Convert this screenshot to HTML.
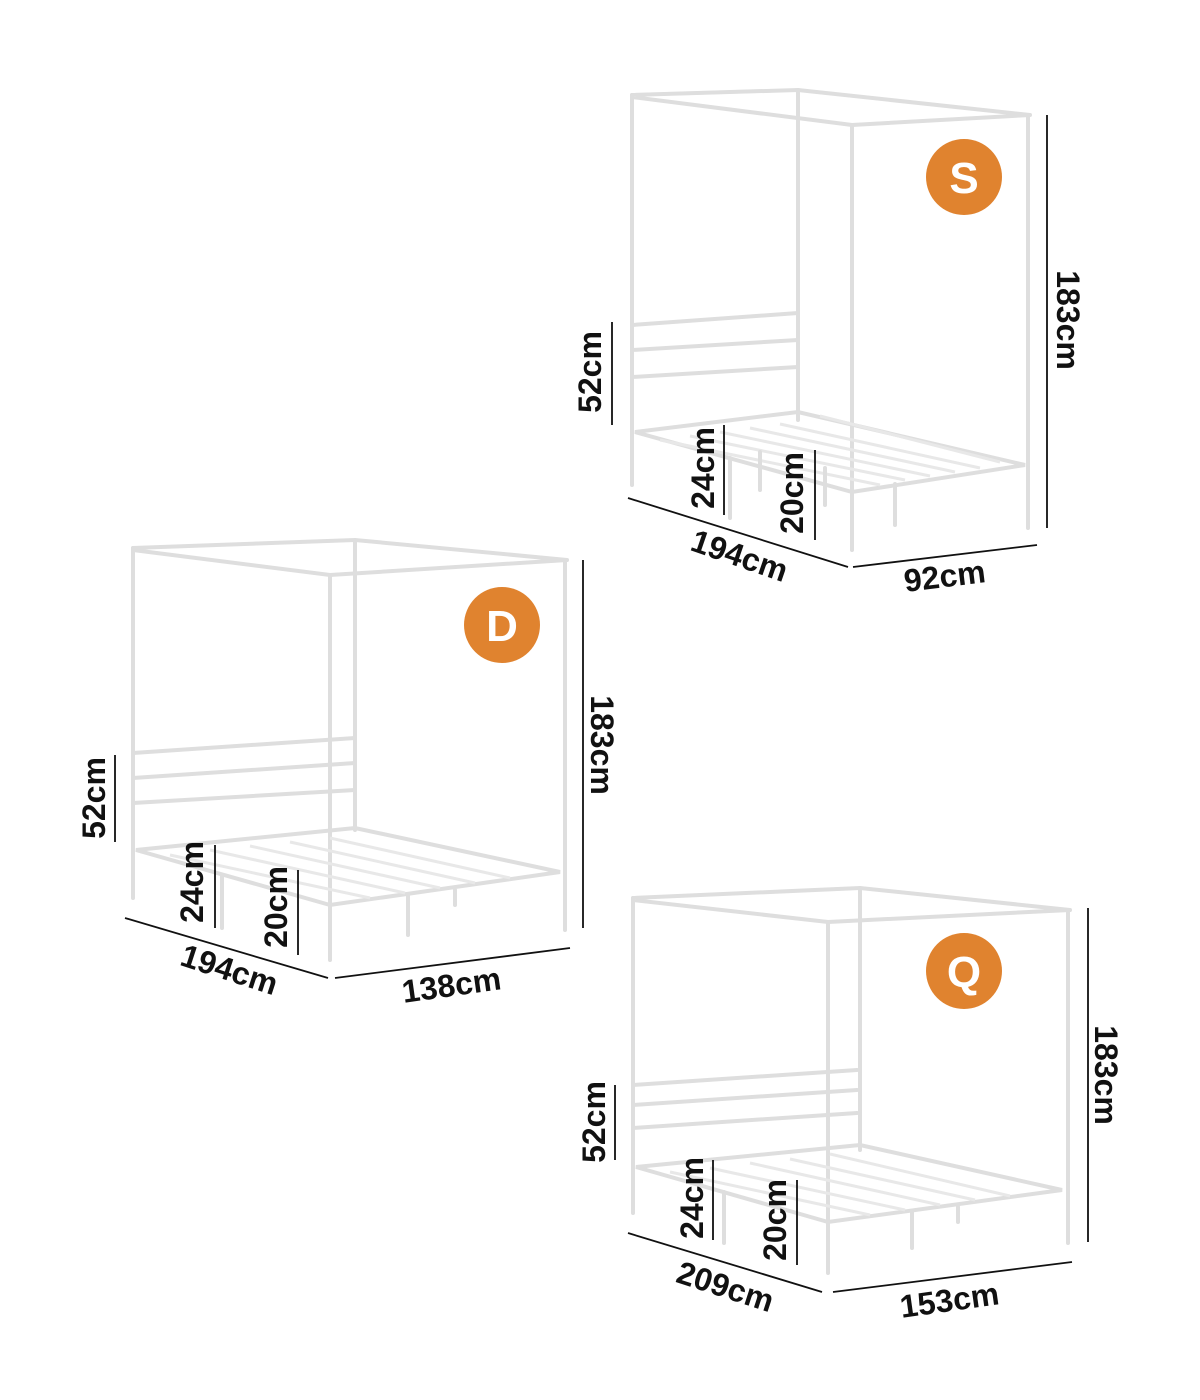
<!DOCTYPE html>
<html><head><meta charset="utf-8"><style>
html,body{margin:0;padding:0;background:#fff;}
svg{display:block;}
text{font-family:"Liberation Sans",sans-serif;font-weight:bold;font-size:32px;fill:#111;}
.f{stroke:#dedede;stroke-width:4;fill:none;stroke-linecap:round;}
.fi{stroke:#e8e8e8;stroke-width:3;fill:none;}
.d{stroke:#111;stroke-width:1.8;fill:none;}
.b{fill:#E0832F;}
.bt{fill:#fff;font-size:44px;text-anchor:middle;}
</style></head><body>
<svg width="1200" height="1400" viewBox="0 0 1200 1400" xmlns="http://www.w3.org/2000/svg">

<g>
<path class="f" d="M632,95 V485 M798,90 V420 M852,125 V550 M1028,115 V528"/>
<path class="f" d="M632,95 L798,90 L1030,115 M632,97 L852,125 L1030,115"/>
<path class="f" d="M632,325 L798,313 M632,350 L798,340 M632,377 L798,367"/>
<path class="f" d="M635,432 L798,412 L1025,465 L852,492 Z"/>
<path class="fi" d="M660,440 L880,485 M690,436 L905,480 M720,432 L930,476 M750,428 L955,472 M780,424 L980,468 M820,416 L1000,462"/>
<path class="f" d="M730,458 V518 M895,484 V525 M760,452 V490 M825,468 V505"/>
<circle class="b" cx="964" cy="177" r="38"/><text class="bt" x="964" y="193">S</text>
<line class="d" x1="1047" y1="115" x2="1047" y2="528"/>
<text transform="translate(1057,320) rotate(90)" text-anchor="middle">183cm</text>
<line class="d" x1="612" y1="322" x2="612" y2="425"/>
<text transform="translate(601,372) rotate(-90)" text-anchor="middle">52cm</text>
<line class="d" x1="724" y1="425" x2="724" y2="515"/>
<text transform="translate(714,468) rotate(-90)" text-anchor="middle">24cm</text>
<line class="d" x1="815" y1="450" x2="815" y2="540"/>
<text transform="translate(803,493) rotate(-90)" text-anchor="middle">20cm</text>
<line class="d" x1="628" y1="498" x2="848" y2="567"/>
<text transform="translate(736,566) rotate(19)" text-anchor="middle">194cm</text>
<line class="d" x1="853" y1="567" x2="1037" y2="545"/>
<text transform="translate(946,587) rotate(-7)" text-anchor="middle">92cm</text>
</g>

<g>
<path class="f" d="M133,548 V898 M355,540 V830 M330,575 V960 M565,560 V930"/>
<path class="f" d="M133,548 L355,540 L567,560 M133,550 L330,575 L567,560"/>
<path class="f" d="M133,753 L355,738 M133,778 L355,763 M133,803 L355,790"/>
<path class="f" d="M136,850 L355,828 L560,872 L330,905 Z"/>
<path class="fi" d="M170,855 L370,898 M210,850 L405,893 M250,846 L440,888 M290,842 L475,883 M330,838 L510,878"/>
<path class="f" d="M222,875 V928 M408,895 V935 M455,890 V905"/>
<circle class="b" cx="502" cy="625" r="38"/><text class="bt" x="502" y="641">D</text>
<line class="d" x1="583" y1="560" x2="583" y2="928"/>
<text transform="translate(591,745) rotate(90)" text-anchor="middle">183cm</text>
<line class="d" x1="115" y1="755" x2="115" y2="842"/>
<text transform="translate(105,798) rotate(-90)" text-anchor="middle">52cm</text>
<line class="d" x1="215" y1="845" x2="215" y2="928"/>
<text transform="translate(203,882) rotate(-90)" text-anchor="middle">24cm</text>
<line class="d" x1="298" y1="870" x2="298" y2="955"/>
<text transform="translate(287,907) rotate(-90)" text-anchor="middle">20cm</text>
<line class="d" x1="125" y1="918" x2="328" y2="978"/>
<text transform="translate(226,980) rotate(18)" text-anchor="middle">194cm</text>
<line class="d" x1="335" y1="978" x2="570" y2="948"/>
<text transform="translate(453,996) rotate(-8)" text-anchor="middle">138cm</text>
</g>

<g>
<path class="f" d="M633,898 V1213 M860,888 V1150 M828,922 V1273 M1068,910 V1243"/>
<path class="f" d="M633,898 L860,888 L1070,910 M633,900 L828,922 L1070,910"/>
<path class="f" d="M633,1085 L857,1070 M633,1105 L857,1090 M633,1128 L857,1113"/>
<path class="f" d="M636,1167 L860,1145 L1062,1190 L828,1222 Z"/>
<path class="fi" d="M670,1172 L870,1215 M710,1168 L905,1210 M750,1163 L940,1205 M790,1159 L975,1200 M830,1154 L1010,1196"/>
<path class="f" d="M724,1192 V1243 M912,1212 V1248 M958,1207 V1222"/>
<circle class="b" cx="964" cy="971" r="38"/><text class="bt" x="964" y="987">Q</text>
<line class="d" x1="1088" y1="908" x2="1088" y2="1242"/>
<text transform="translate(1095,1075) rotate(90)" text-anchor="middle">183cm</text>
<line class="d" x1="615" y1="1085" x2="615" y2="1160"/>
<text transform="translate(605,1122) rotate(-90)" text-anchor="middle">52cm</text>
<line class="d" x1="713" y1="1160" x2="713" y2="1240"/>
<text transform="translate(703,1198) rotate(-90)" text-anchor="middle">24cm</text>
<line class="d" x1="797" y1="1180" x2="797" y2="1265"/>
<text transform="translate(786,1220) rotate(-90)" text-anchor="middle">20cm</text>
<line class="d" x1="628" y1="1233" x2="822" y2="1292"/>
<text transform="translate(722,1297) rotate(18)" text-anchor="middle">209cm</text>
<line class="d" x1="833" y1="1292" x2="1072" y2="1262"/>
<text transform="translate(951,1311) rotate(-8)" text-anchor="middle">153cm</text>
</g>
</svg>
</body></html>
